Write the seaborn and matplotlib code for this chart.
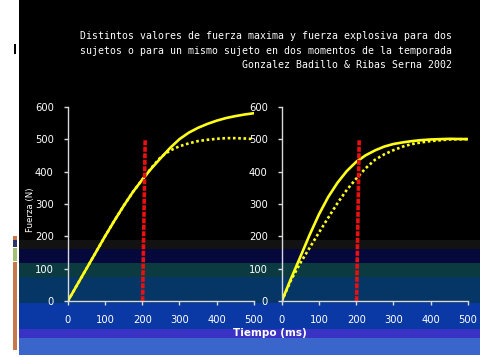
import matplotlib
matplotlib.use("Agg")
import matplotlib.pyplot as plt
import seaborn as sns
import pandas as pd
from matplotlib.patches import Rectangle

# ---------------- data ----------------
t_left = [0, 25, 50, 75, 100, 125, 150, 175, 200, 225, 250, 275, 300, 325, 350,
          375, 400, 425, 450, 475, 500]
left_solid = [0, 50, 100, 150, 200, 248, 294, 337, 375, 410, 442, 473, 500, 520,
              535, 547, 557, 565, 571, 576, 580]
left_dotted = [0, 50, 100, 150, 200, 248, 294, 337, 375, 412, 445, 465, 478, 487,
               494, 498, 501, 503, 503, 502, 500]

t_right = [0, 25, 50, 75, 100, 125, 150, 175, 200, 225, 250, 275, 300, 325, 350,
           375, 400, 450, 500]
right_solid = [0, 70, 137, 205, 268, 322, 366, 402, 430, 450, 465, 477, 485, 490,
               494, 497, 499, 501, 500]
right_dotted = [0, 65, 118, 165, 212, 258, 303, 344, 378, 410, 436, 453, 466, 477,
                485, 490, 494, 499, 500]

marker_t = [201, 208]
marker_f = [0, 500]

x_ticks = [0, 100, 200, 300, 400, 500]
y_ticks = [0, 100, 200, 300, 400, 500, 600]

title_lines = [
    "Distintos valores de fuerza maxima y fuerza explosiva para dos",
    "sujetos o para un mismo sujeto en dos momentos de la temporada",
    "Gonzalez Badillo & Ribas Serna 2002",
]
xlabel = "Tiempo (ms)"
ylabel = "Fuerza (N)"

# ---------------- figure ----------------
sns.set_theme(style="dark")
plt.rcParams["font.family"] = ["DejaVu Sans"]

W, H = 481, 357
fig = plt.figure(figsize=(W / 100, H / 100), dpi=100)
fig.patch.set_facecolor("white")

# background slide decoration (pixel coordinates)
bg = fig.add_axes([0, 0, 1, 1], zorder=-5)
bg.set_xlim(0, W)
bg.set_ylim(H, 0)
bg.axis("off")
bands = [
    (0, 240, "#000000"),
    (240, 249, "#121212"),
    (249, 263, "#04083a"),
    (263, 277, "#0b3a40"),
    (277, 303, "#063666"),
    (303, 329, "#0a38a4"),
    (329, 338, "#3a32c4"),
    (338, 355, "#3a66cc"),
]
for y0, y1, c in bands:
    bg.add_patch(Rectangle((19, y0), W - 19, y1 - y0, color=c, lw=0))
bg.add_patch(Rectangle((14, 44), 2, 10, color="black", lw=0))
bg.add_patch(Rectangle((13, 236), 4, 4, color="#c8784a", lw=0))
bg.add_patch(Rectangle((13, 240), 4, 7, color="#2a3768", lw=0))
bg.add_patch(Rectangle((13, 248), 4, 13, color="#a2c074", lw=0))
bg.add_patch(Rectangle((13, 262), 4, 88, color="#c8784a", lw=0))

ax_w = 186.3 / W
ax_h = 194.6 / H
ax_b = (H - 301.3) / H
axL = fig.add_axes([67.7 / W, ax_b, ax_w, ax_h])
axR = fig.add_axes([281.7 / W, ax_b, ax_w, ax_h])

dfL = pd.DataFrame({"t": t_left, "solid": left_solid, "dotted": left_dotted})
dfR = pd.DataFrame({"t": t_right, "solid": right_solid, "dotted": right_dotted})
dfM = pd.DataFrame({"t": marker_t, "f": marker_f})

yellow = "#ffff1a"
red = "#e81010"
for ax, df in ((axL, dfL), (axR, dfR)):
    ax.set_facecolor("none")
    sns.lineplot(data=df, x="t", y="dotted", ax=ax, color=yellow, lw=1.9,
                 linestyle=(0, (1, 1.0)), dash_capstyle="butt")
    sns.lineplot(data=df, x="t", y="solid", ax=ax, color=yellow, lw=1.9)
    sns.lineplot(data=dfM, x="t", y="f", ax=ax, color=red, lw=2.6,
                 linestyle=(0, (1.4, 0.4)), dash_capstyle="butt")
    ax.set_xlim(0, 500)
    ax.set_ylim(0, 600)
    ax.set_xticks(x_ticks)
    ax.set_yticks(y_ticks)
    ax.grid(False)
    ax.set_xlabel("")
    ax.set_ylabel("")
    for s in ("top", "right"):
        ax.spines[s].set_visible(False)
    for s in ("left", "bottom"):
        ax.spines[s].set_visible(True)
        ax.spines[s].set_color("#d8d8e0")
        ax.spines[s].set_linewidth(1.0)
    ax.tick_params(axis="both", colors="#d8d8e0", labelcolor="white",
                   direction="out", length=3, width=1, labelsize=7.2,
                   bottom=True, left=True)
    ax.tick_params(axis="x", pad=7)
    ax.tick_params(axis="y", pad=7)

# texts
tx = 452 / W
for i, line in enumerate(title_lines):
    fig.text(tx, 1 - (36 + 14.5 * i) / H, line, ha="right", va="center",
             color="white", fontsize=7.1, family="DejaVu Sans Mono")
fig.text(270 / W, 1 - 333 / H, xlabel, ha="center", va="center",
         color="white", fontsize=7.5, fontweight="bold")
fig.text(31 / W, 1 - 210 / H, ylabel, ha="center", va="center",
         color="white", fontsize=6.2, rotation=90)

fig.savefig("out.png", dpi=100, facecolor=fig.get_facecolor())
